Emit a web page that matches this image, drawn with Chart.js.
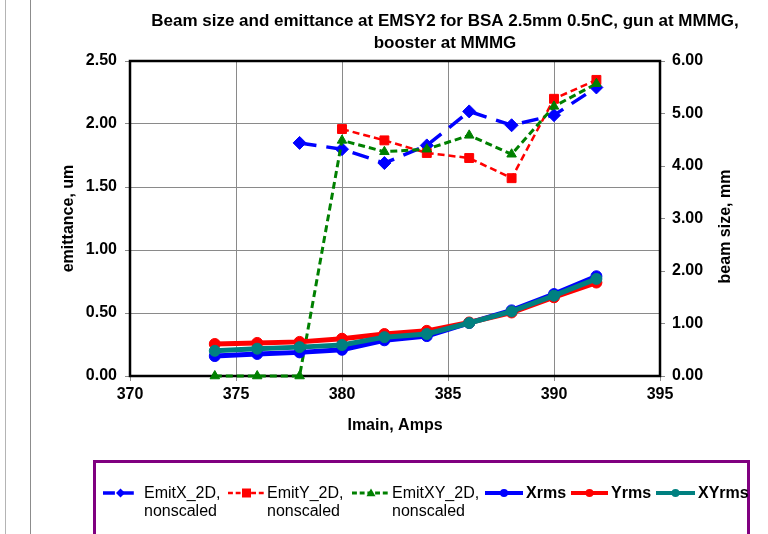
<!DOCTYPE html>
<html>
<head>
<meta charset="utf-8">
<title>EMSY2 beam size and emittance</title>
<script src="https://cdn.jsdelivr.net/npm/chart.js@4.4.1/dist/chart.umd.min.js"></script>
<style>
  html, body { margin: 0; padding: 0; background: #fff; }
  #wrap { width: 768px; height: 534px; position: relative; }
</style>
</head>
<body>
<div id="wrap"><canvas id="chart" width="768" height="534"></canvas></div>
<script>
// main solenoid current, A
const imain = [374, 376, 378, 380, 382, 384, 386, 388, 390, 392];

// emittance, um (left axis)
const emitX = [null, null, 1.85, 1.80, 1.69, 1.83, 2.10, 1.99, 2.07, 2.29];
const emitY = [null, null, null, 1.96, 1.87, 1.77, 1.73, 1.57, 2.20, 2.35];
const emitXY = [0, 0, 0, 1.87, 1.78, 1.80, 1.91, 1.76, 2.14, 2.32];

// rms beam size, mm (right axis)
const xrms = [0.38, 0.42, 0.45, 0.50, 0.68, 0.76, 1.01, 1.25, 1.56, 1.90];
const yrms = [0.61, 0.63, 0.65, 0.71, 0.80, 0.86, 1.02, 1.21, 1.50, 1.78];
const xyrms = [0.48, 0.52, 0.55, 0.59, 0.74, 0.80, 1.01, 1.23, 1.53, 1.85];

const titleLines = ['Beam size and emittance at EMSY2 for BSA 2.5mm 0.5nC, gun at MMMG,', 'booster at MMMG'];

const FONT = '"Liberation Sans", Arial, sans-serif';
Chart.defaults.font.family = FONT;
Chart.defaults.color = '#000';

const pts = (ys) => imain.map((x, i) => ({ x: x, y: ys[i] }));

function series(label, ys, axis, color, dash, width, style, radius, order) {
    return {
        label: label,
        data: pts(ys),
        yAxisID: axis,
        borderColor: color,
        backgroundColor: color,
        borderWidth: width,
        borderDash: dash,
        pointStyle: style,
        pointRadius: radius,
        pointBorderWidth: 1,
        pointBackgroundColor: color,
        pointBorderColor: color,
        tension: 0,
        clip: false,
        order: order,
    };
}

const datasets = [
    series('EmitX_2D, nonscaled', emitX, 'y', '#0000ff', [17, 10], 3.5, 'rectRot', 6.5, 6),
    series('EmitY_2D, nonscaled', emitY, 'y', '#ff0000', [7, 4], 2.5, 'rect', 6.3, 5),
    series('EmitXY_2D, nonscaled', emitXY, 'y', '#008000', [7, 4], 3, 'triangle', 5.5, 4),
    series('Xrms', xrms, 'y2', '#0000ff', [], 5, 'circle', 5.5, 3),
    series('Yrms', yrms, 'y2', '#ff0000', [], 5, 'circle', 5.5, 2),
    series('XYrms', xyrms, 'y2', '#008080', [], 5, 'circle', 5.5, 1),
];

// legend entries: sample start/end x, text x, text lines, bold or not
const legendItems = [
    { x0: 103, x1: 138, tx: 144, lines: ['EmitX_2D,', 'nonscaled'], bold: false },
    { x0: 228, x1: 265, tx: 267, lines: ['EmitY_2D,', 'nonscaled'], bold: false },
    { x0: 352, x1: 390, tx: 392, lines: ['EmitXY_2D,', 'nonscaled'], bold: false },
    { x0: 485, x1: 523, tx: 526, lines: ['Xrms'], bold: true },
    { x0: 571, x1: 608, tx: 611, lines: ['Yrms'], bold: true },
    { x0: 656, x1: 695, tx: 698, lines: ['XYrms'], bold: true },
];

function marker(ctx, style, x, y, r) {
    ctx.beginPath();
    if (style === 'rectRot') {
        ctx.moveTo(x, y - r); ctx.lineTo(x + r, y); ctx.lineTo(x, y + r); ctx.lineTo(x - r, y);
    } else if (style === 'rect') {
        ctx.rect(x - r, y - r, 2 * r, 2 * r);
    } else if (style === 'triangle') {
        ctx.moveTo(x, y - r); ctx.lineTo(x + r, y + r * 0.7); ctx.lineTo(x - r, y + r * 0.7);
    } else {
        ctx.arc(x, y, r, 0, Math.PI * 2);
    }
    ctx.closePath();
    ctx.fill();
}

const decor = {
    id: 'decor',
    beforeDatasetsDraw(chart) {
        const { ctx, chartArea: a } = chart;
        ctx.save();
        ctx.strokeStyle = '#000';
        ctx.lineWidth = 2.5;
        ctx.strokeRect(a.left, a.top, a.right - a.left, a.bottom - a.top);
        ctx.restore();
    },
    afterDraw(chart) {
        const ctx = chart.ctx;
        const a = chart.chartArea;
        ctx.save();

        // window edges on the left
        ctx.lineWidth = 1;
        ctx.strokeStyle = '#b4b4b4';
        ctx.beginPath(); ctx.moveTo(5.5, 0); ctx.lineTo(5.5, 534); ctx.stroke();
        ctx.strokeStyle = '#8c8c8c';
        ctx.beginPath(); ctx.moveTo(30.5, 0); ctx.lineTo(30.5, 534); ctx.stroke();

        // title
        ctx.fillStyle = '#000';
        ctx.font = 'bold 17px ' + FONT;
        ctx.textAlign = 'center';
        ctx.textBaseline = 'middle';
        ctx.fillText(titleLines[0], 445, 21);
        ctx.fillText(titleLines[1], 445, 43);

        // right axis title, reading upwards
        ctx.save();
        ctx.translate(726, (a.top + a.bottom) / 2 + 8);
        ctx.rotate(-Math.PI / 2);
        ctx.font = 'bold 16px ' + FONT;
        ctx.fillText('beam size, mm', 0, 0);
        ctx.restore();

        // legend box
        ctx.strokeStyle = '#800080';
        ctx.lineWidth = 3;
        ctx.strokeRect(94.5, 461.5, 654, 100);

        legendItems.forEach((it, i) => {
            const ds = datasets[i];
            const y = 493;
            ctx.strokeStyle = ds.borderColor;
            ctx.fillStyle = ds.borderColor;
            ctx.lineWidth = Math.min(ds.borderWidth, 4);
            ctx.setLineDash(ds.borderDash.length ? [ds.borderDash[0] * 0.7, ds.borderDash[1] * 0.7] : []);
            ctx.beginPath(); ctx.moveTo(it.x0, y); ctx.lineTo(it.x1, y); ctx.stroke();
            ctx.setLineDash([]);
            marker(ctx, ds.pointStyle, (it.x0 + it.x1) / 2, y, ds.pointStyle === 'circle' ? 4 : 4.5);
            ctx.fillStyle = '#000';
            ctx.font = (it.bold ? 'bold ' : '') + '16px ' + FONT;
            ctx.textAlign = 'left';
            it.lines.forEach((t, k) => ctx.fillText(t, it.tx, y + 1 + k * 18));
        });
        ctx.restore();
    },
};

const tickFont = { family: FONT, size: 16, weight: 'bold' };
const titleFont = { family: FONT, size: 16, weight: 'bold' };

new Chart(document.getElementById('chart'), {
    type: 'line',
    data: { datasets: datasets },
    options: {
        responsive: false,
        animation: false,
        layout: { padding: { top: 61, left: 0, right: 0, bottom: 0 } },
        plugins: {
            legend: { display: false },
            tooltip: { enabled: false },
        },
        scales: {
            x: {
                type: 'linear',
                min: 370,
                max: 395,
                ticks: { stepSize: 5, font: tickFont, color: '#000', padding: 4 },
                grid: { color: '#8a8a8a', lineWidth: 1, tickLength: 5 },
                border: { display: false },
                title: { display: true, text: 'Imain, Amps', font: titleFont, color: '#000', padding: { top: 0, bottom: 99 } },
                afterFit: (s) => { s.height = 158; },
            },
            y: {
                position: 'left',
                min: 0,
                max: 2.5,
                ticks: { stepSize: 0.5, font: tickFont, color: '#000', padding: 8, callback: (v) => v.toFixed(2) },
                grid: { color: '#8a8a8a', lineWidth: 1, tickLength: 5 },
                border: { display: false },
                title: { display: true, text: 'emittance, um', font: titleFont, color: '#000', padding: { top: 59, bottom: 0 } },
                afterFit: (s) => { s.width = 130; },
            },
            y2: {
                position: 'right',
                min: 0,
                max: 6,
                ticks: { stepSize: 1, font: tickFont, color: '#000', padding: 7, callback: (v) => v.toFixed(2) },
                grid: { drawOnChartArea: false, color: '#8a8a8a', tickLength: 5 },
                border: { display: false },
                afterFit: (s) => { s.width = 108; },
            },
        },
    },
    plugins: [decor],
});
</script>
</body>
</html>
